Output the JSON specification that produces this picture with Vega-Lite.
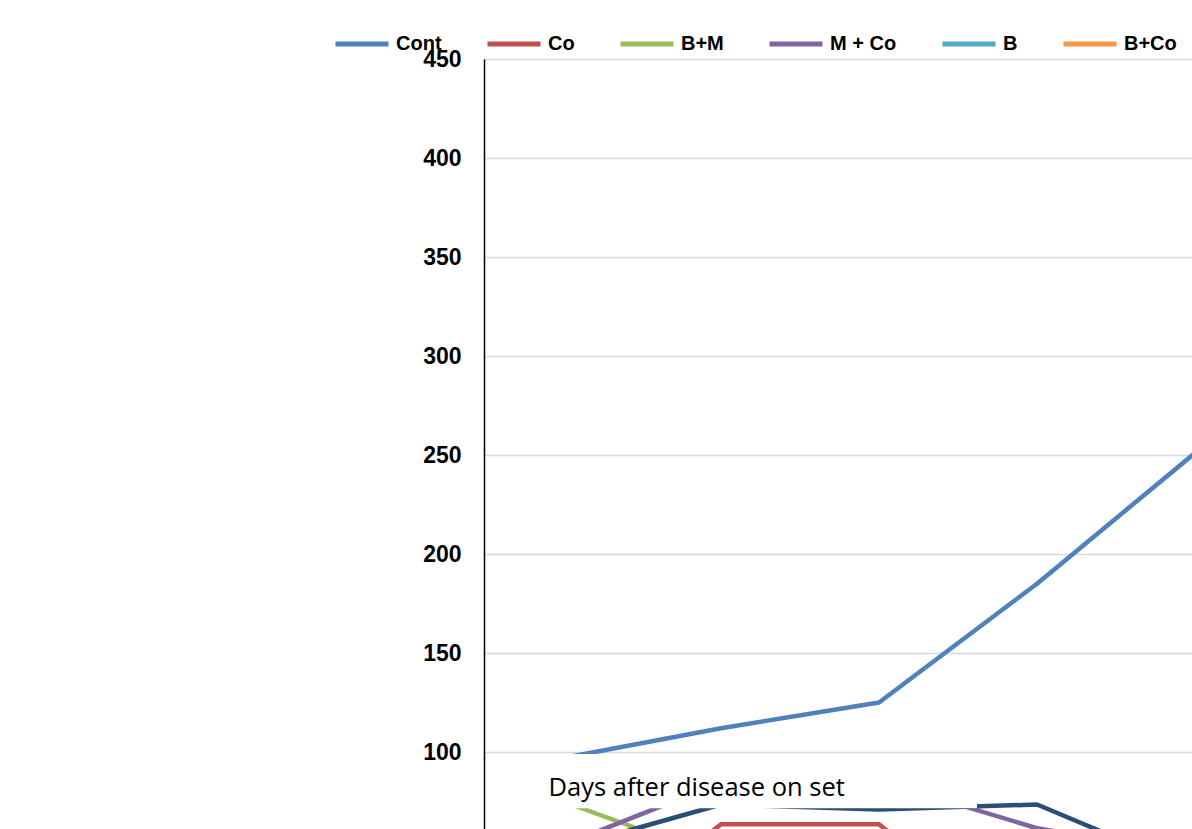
{
  "$schema": "https://vega.github.io/schema/vega-lite/v6.json",
  "width": 790,
  "height": 891,
  "autosize": "none",
  "padding": {"left": 484, "top": 59, "right": 0, "bottom": 0},
  "background": "white",
  "config": {
    "view": {"stroke": null},
    "axisY": {
      "grid": true,
      "gridColor": "#d9d9d9",
      "gridWidth": 1.3,
      "domainColor": "#000000",
      "domainWidth": 1.5,
      "ticks": false,
      "tickSize": 0,
      "labelFont": "Liberation Sans",
      "labelFontSize": 23,
      "labelFontWeight": "bold",
      "labelColor": "#000000",
      "labelPadding": 23,
      "title": null
    }
  },
  "datasets": {
    "series": [
      {"day": 3, "treatment": "Cont", "value": 97},
      {"day": 6, "treatment": "Cont", "value": 112},
      {"day": 9, "treatment": "Cont", "value": 125},
      {"day": 12, "treatment": "Cont", "value": 185},
      {"day": 15, "treatment": "Cont", "value": 251},
      {"day": 3, "treatment": "Co", "value": 0},
      {"day": 6, "treatment": "Co", "value": 63.5},
      {"day": 9, "treatment": "Co", "value": 63.5},
      {"day": 12, "treatment": "Co", "value": 0},
      {"day": 15, "treatment": "Co", "value": 0},
      {"day": 3, "treatment": "B+M", "value": 75},
      {"day": 6, "treatment": "B+M", "value": 46},
      {"day": 9, "treatment": "B+M", "value": 50},
      {"day": 12, "treatment": "B+M", "value": 52},
      {"day": 15, "treatment": "B+M", "value": 55},
      {"day": 3, "treatment": "M + Co", "value": 53},
      {"day": 6, "treatment": "M + Co", "value": 84.5},
      {"day": 9, "treatment": "M + Co", "value": 85.5},
      {"day": 12, "treatment": "M + Co", "value": 61.5},
      {"day": 15, "treatment": "M + Co", "value": 48},
      {"day": 3, "treatment": "B", "value": 30},
      {"day": 6, "treatment": "B", "value": 35},
      {"day": 9, "treatment": "B", "value": 40},
      {"day": 12, "treatment": "B", "value": 45},
      {"day": 15, "treatment": "B", "value": 50},
      {"day": 3, "treatment": "B+Co", "value": 25},
      {"day": 6, "treatment": "B+Co", "value": 30},
      {"day": 9, "treatment": "B+Co", "value": 38},
      {"day": 12, "treatment": "B+Co", "value": 42},
      {"day": 15, "treatment": "B+Co", "value": 46},
      {"day": 3, "treatment": "M", "value": 51},
      {"day": 6, "treatment": "M", "value": 73.5},
      {"day": 9, "treatment": "M", "value": 71},
      {"day": 12, "treatment": "M", "value": 73.5},
      {"day": 15, "treatment": "M", "value": 40}
    ],
    "titlebox": [
      {"day_start": 1.8, "day_end": 10.86, "low": 71.6, "high": 99}
    ]
  },
  "layer": [
    {
      "data": {"name": "series"},
      "mark": {"type": "line", "strokeWidth": 4.5, "strokeCap": "round", "strokeJoin": "round"},
      "encoding": {
        "x": {
          "field": "day",
          "type": "quantitative",
          "scale": {"domain": [1.5, 16.5], "nice": false, "zero": false},
          "axis": {
            "zindex": 1,
            "domain": false,
            "ticks": false,
            "labels": false,
            "grid": false,
            "title": "Days after disease on set",
            "titleFont": "Open Sans",
            "titleFontSize": 25.5,
            "titleFontWeight": "normal",
            "titleColor": "#000000",
            "titleAlign": "left",
            "titleBaseline": "alphabetic",
            "titleX": 64,
            "titleY": -155
          }
        },
        "y": {
          "field": "value",
          "type": "quantitative",
          "scale": {"domain": [0, 450], "nice": false},
          "axis": {"values": [0, 50, 100, 150, 200, 250, 300, 350, 400, 450]}
        },
        "color": {
          "field": "treatment",
          "type": "nominal",
          "sort": ["Cont", "Co", "B+M", "M + Co", "B", "B+Co", "M"],
          "scale": {
            "domain": ["Cont", "Co", "B+M", "M + Co", "B", "B+Co", "M"],
            "range": ["#4f81bd", "#c0504d", "#9bbb59", "#8064a2", "#4bacc6", "#f79646", "#2c4d75"]
          },
          "legend": {
            "orient": "none",
            "legendX": -151,
            "legendY": -44,
            "direction": "horizontal",
            "columns": 7,
            "title": null,
            "padding": 0,
            "symbolType": "stroke",
            "symbolSize": 2809,
            "symbolStrokeWidth": 5,
            "labelFont": "Liberation Sans",
            "labelFontSize": 20,
            "labelFontWeight": "bold",
            "labelColor": "#000000",
            "labelOffset": 5,
            "columnPadding": 35,
            "labelLimit": 300
          }
        },
        "order": {"field": "day", "type": "quantitative"}
      }
    },
    {
      "data": {"name": "titlebox"},
      "mark": {"type": "rect", "fill": "#ffffff", "stroke": null},
      "encoding": {
        "x": {"field": "day_start", "type": "quantitative"},
        "x2": {"field": "day_end"},
        "y": {"field": "low", "type": "quantitative"},
        "y2": {"field": "high"}
      }
    }
  ]
}
